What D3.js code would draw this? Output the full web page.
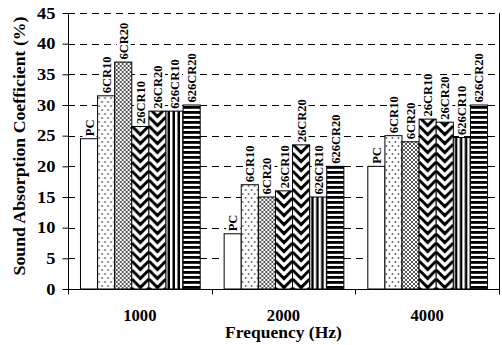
<!DOCTYPE html>
<html>
<head>
<meta charset="utf-8">
<script src="https://cdn.jsdelivr.net/npm/d3@7"></script>
<style>
  body { margin: 0; background: #fff; }
  text { font-family: "Liberation Serif", "Times New Roman", serif; font-weight: bold; }
</style>
</head>
<body>
<svg id="chart" width="502" height="345"></svg>
<script>
// data
const categories = ["1000", "2000", "4000"];
const series = ["PC", "6CR10", "6CR20", "26CR10", "26CR20", "626CR10", "626CR20"];
const vals1000 = [24.5, 31.5, 37, 26.5, 29, 29, 30];
const vals2000 = [9, 17, 15, 16, 23.5, 15, 20];
const vals4000 = [20, 25, 24, 27.7, 27.2, 24.7, 30];
const yTicks = [0, 5, 10, 15, 20, 25, 30, 35, 40, 45];

const allVals = [vals1000, vals2000, vals4000];
const rows = [];
categories.forEach((c, ci) => {
  series.forEach((s, si) => rows.push({ cat: c, ser: s, si: si, v: allVals[ci][si] }));
});

const svg = d3.select("#chart");
const pLeft = 68, pRight = 499, pTop = 13, pBottom = 289;

const x0 = d3.scaleBand().domain(categories).range([pLeft, pRight]).padding(0);
const x1 = d3.scaleBand().domain(series).range([0, x0.bandwidth()]).paddingInner(0).paddingOuter(0.7);
const y = d3.scaleLinear().domain([0, 45]).range([pBottom, pTop]);

// stretch text a little wider, like the original
function widen(sel, f) {
  sel.each(function () {
    const w = this.getComputedTextLength();
    d3.select(this).attr("textLength", w * f).attr("lengthAdjust", "spacingAndGlyphs");
  });
}

// gridlines
svg.append("g")
  .selectAll("line")
  .data(yTicks.filter(d => d > 0))
  .join("line")
  .attr("x1", pLeft).attr("x2", pRight)
  .attr("y1", d => Math.round(y(d)) + 0.5).attr("y2", d => Math.round(y(d)) + 0.5)
  .attr("stroke", "#000")
  .attr("stroke-dasharray", "7,5");

// patterns, one per bar so each lines up with its own bar
const defs = svg.append("defs");
function makePattern(d) {
  const bx = x0(d.cat) + x1(d.ser) + 0.5, w = x1.bandwidth();
  const id = "p" + d.cat + "_" + d.si;
  const p = defs.append("pattern").attr("id", id).attr("patternUnits", "userSpaceOnUse").attr("x", bx).attr("y", 0);
  if (d.si == 1) {
    p.attr("width", 6).attr("height", 8);
    p.append("rect").attr("width", 6).attr("height", 8).attr("fill", "#fff");
    p.append("circle").attr("cx", 1.5).attr("cy", 2).attr("r", 0.9).attr("fill", "#555");
    p.append("circle").attr("cx", 4.5).attr("cy", 6).attr("r", 0.9).attr("fill", "#555");
  } else if (d.si == 2) {
    p.attr("width", 4).attr("height", 4);
    p.append("rect").attr("width", 4).attr("height", 4).attr("fill", "#fff");
    p.append("path").attr("d", "M0,0L4,4M4,0L0,4M-1,3L1,5M3,-1L5,1M-1,1L1,-1M3,5L5,3")
      .attr("stroke", "#444").attr("stroke-width", 0.9);
  } else if (d.si == 3 || d.si == 4) {
    const h = 9;
    p.attr("width", w).attr("height", h);
    p.append("rect").attr("width", w).attr("height", h).attr("fill", "#fff");
    let path = "";
    for (let k = -3; k <= 2; k++) {
      const o = k * h;
      path += `M0,${o} L${w / 2},${o + w / 2} L${w},${o} `;
    }
    p.append("path").attr("d", path).attr("fill", "none").attr("stroke", "#000").attr("stroke-width", 3);
  } else if (d.si == 5) {
    p.attr("width", 5).attr("height", 4);
    p.append("rect").attr("width", 5).attr("height", 4).attr("fill", "#fff");
    p.append("rect").attr("x", 1.5).attr("width", 2.5).attr("height", 4).attr("fill", "#000");
  } else if (d.si == 6) {
    p.attr("width", 4).attr("height", 5);
    p.append("rect").attr("width", 4).attr("height", 5).attr("fill", "#fff");
    p.append("rect").attr("y", 1).attr("width", 4).attr("height", 2.8).attr("fill", "#000");
  }
  return d.si == 0 ? "#fff" : "url(#" + id + ")";
}

// bars
svg.append("g")
  .selectAll("rect")
  .data(rows)
  .join("rect")
  .attr("x", d => x0(d.cat) + x1(d.ser) + 0.5)
  .attr("y", d => y(d.v))
  .attr("width", x1.bandwidth())
  .attr("height", d => y(0) - y(d.v))
  .attr("fill", d => makePattern(d))
  .attr("stroke", "#000")
  .attr("stroke-width", 1);

// bar labels, rotated with white box behind
const lab = svg.append("g")
  .selectAll("g")
  .data(rows)
  .join("g")
  .attr("transform", d => `translate(${x0(d.cat) + x1(d.ser) + x1.bandwidth() / 2 + 0.5},${y(d.v) - 1.5}) rotate(-90)`);
lab.append("text")
  .attr("x", 1)
  .attr("y", 4.5)
  .attr("font-size", 12.5)
  .text(d => d.ser);
lab.each(function () {
  const t = d3.select(this).select("text");
  const b = t.node().getBBox();
  d3.select(this).insert("rect", "text")
    .attr("x", b.x - 1).attr("y", b.y)
    .attr("width", b.width + 2).attr("height", b.height)
    .attr("fill", "#fff");
});

// y axis
const yAxis = svg.append("g")
  .attr("transform", `translate(${pLeft + 0.5},0)`)
  .call(d3.axisLeft(y).tickValues(yTicks).tickSize(6).tickPadding(7));
yAxis.select(".domain").attr("stroke", "#000").attr("d", `M0,${pTop}V${pBottom + 0.5}`);
yAxis.selectAll("text").attr("font-size", 16).attr("fill", "#000")
  .style("font-family", "Liberation Serif").style("font-weight", "bold");
widen(yAxis.selectAll("text"), 1.15);

// x axis: ticks on category boundaries
const xAxis = svg.append("g").attr("transform", `translate(0,${pBottom + 0.5})`);
xAxis.append("line").attr("x1", pLeft).attr("x2", pRight + 0.5).attr("stroke", "#000");
xAxis.selectAll(".tk")
  .data(categories.map(c => x0(c)).concat([pRight]))
  .join("line")
  .attr("x1", d => Math.round(d) + 0.5).attr("x2", d => Math.round(d) + 0.5)
  .attr("y1", 0).attr("y2", 5)
  .attr("stroke", "#000");
const xLbl = xAxis.selectAll(".lbl")
  .data(categories)
  .join("text")
  .attr("x", d => x0(d) + x0.bandwidth() / 2)
  .attr("y", 31)
  .attr("text-anchor", "middle")
  .attr("font-size", 16)
  .text(d => d);
widen(xLbl, 1.04);

// right frame line
svg.append("line")
  .attr("x1", pRight + 0.5).attr("x2", pRight + 0.5)
  .attr("y1", pTop).attr("y2", pBottom + 0.5)
  .attr("stroke", "#000");

// axis titles
const xTitle = svg.append("text")
  .attr("x", (pLeft + pRight) / 2)
  .attr("y", 338)
  .attr("text-anchor", "middle")
  .attr("font-size", 16.5)
  .text("Frequency (Hz)");
widen(xTitle, 1.06);
const yTitle = svg.append("text")
  .attr("transform", `translate(24.5,146) rotate(-90)`)
  .attr("text-anchor", "middle")
  .attr("font-size", 16)
  .text("Sound Absorption Coefficient (%)");
widen(yTitle, 1.11);
</script>
</body>
</html>
